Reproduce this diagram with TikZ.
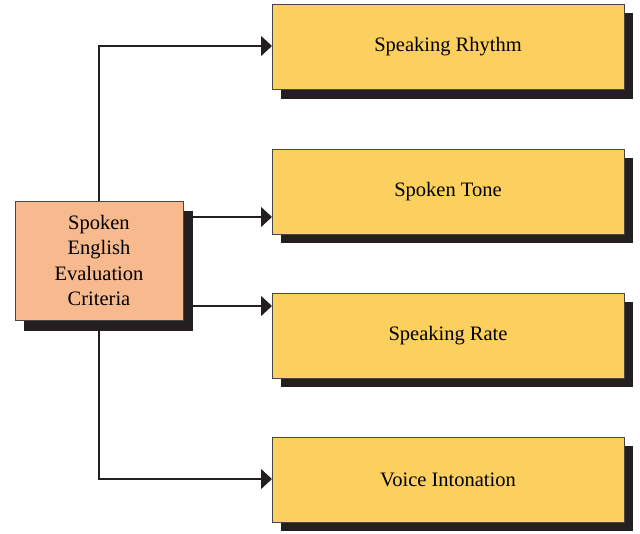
\documentclass[tikz,border=0pt]{standalone}
\usepackage{fontspec}
\setmainfont{Liberation Serif}
\usetikzlibrary{arrows.meta,positioning}
\definecolor{critfill}{RGB}{247,186,142}
\definecolor{itemfill}{RGB}{252,208,95}
\definecolor{shadowc}{RGB}{35,31,32}
\definecolor{edgec}{RGB}{70,70,70}
\tikzset{
  box/.style={draw=edgec, line width=0.9pt, inner sep=0pt, font=\fontsize{20.5}{25.5}\selectfont, align=center},
  critbox/.style={box, fill=critfill, minimum width=168pt, minimum height=119pt},
  itembox/.style={box, fill=itemfill, minimum width=352pt, minimum height=85pt},
  shadowbox/.style={fill=shadowc},
  link/.style={draw=shadowc, line width=1.2pt, -{Triangle[length=11pt,width=20pt]}},
}
\begin{document}
\begin{tikzpicture}[x=1pt,y=-1pt]
  \useasboundingbox (0,0) rectangle (640,533);
  % elbow connectors, drawn first so the boxes sit on top
  \coordinate (c) at (99,260);
  \coordinate (t1) at (272,46);
  \coordinate (t2) at (272,217);
  \coordinate (t3) at (272,306);
  \coordinate (t4) at (272,479);
  \draw[link] (c) |- (t1);
  \draw[link] (c) |- (t4);
  \draw[link] (c |- t2) -- (t2);
  \draw[link] (c |- t3) -- (t3);
  % drop shadows
  \fill[shadowbox] (24,211) rectangle (193,331);
  \fill[shadowbox] (281,13) rectangle (633,99);
  \fill[shadowbox] (281,158) rectangle (633,243);
  \fill[shadowbox] (281,302) rectangle (633,387);
  \fill[shadowbox] (281,446) rectangle (633,531);
  % boxes
  \node[critbox] (crit) at (99,260.5) {Spoken\\English\\Evaluation\\Criteria};
  \node[itembox] (rhythm) at (448,47) {Speaking Rhythm};
  \node[itembox] (tone) at (448,191.5) {Spoken Tone};
  \node[itembox] (rate) at (448,335.5) {Speaking Rate};
  \node[itembox] (inton) at (448,479.5) {Voice Intonation};
\end{tikzpicture}
\end{document}
